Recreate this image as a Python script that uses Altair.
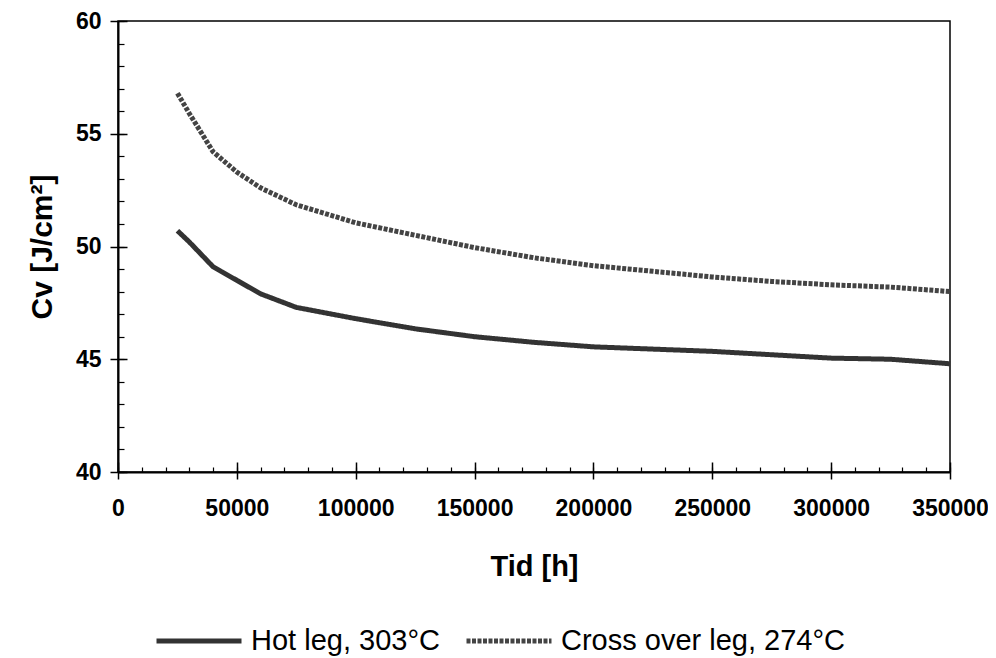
import altair as alt
import pandas as pd

hours = [25000, 30000, 40000, 50000, 60000, 75000, 100000, 125000, 150000,
         175000, 200000, 225000, 250000, 275000, 300000, 325000, 350000]
hot_leg = [50.7, 50.2, 49.1, 48.5, 47.9, 47.3, 46.8, 46.35, 46.0,
           45.75, 45.55, 45.45, 45.35, 45.2, 45.05, 45.0, 44.8]
cross_leg = [56.8, 55.9, 54.2, 53.3, 52.6, 51.85, 51.05, 50.5, 49.95,
             49.5, 49.15, 48.9, 48.65, 48.45, 48.3, 48.2, 48.0]
series_names = ["Hot leg, 303°C", "Cross over leg, 274°C"]
x_ticks = [0, 50000, 100000, 150000, 200000, 250000, 300000, 350000]
y_ticks = [40, 45, 50, 55, 60]
x_minor = list(range(0, 350001, 10000))
y_minor = list(range(40, 61, 1))

rows = []
for h, a, b in zip(hours, hot_leg, cross_leg):
    rows.append({"Tid": h, "Cv": a, "Serie": series_names[0]})
    rows.append({"Tid": h, "Cv": b, "Serie": series_names[1]})
df = pd.DataFrame(rows)

FONT = "Liberation Sans"
xs = alt.Scale(domain=[0, 350000], nice=False)
ys = alt.Scale(domain=[40, 60], nice=False)

lines = alt.Chart(df).mark_line(strokeWidth=5, strokeCap="butt").encode(
    x=alt.X("Tid:Q", scale=xs, title="Tid [h]",
            axis=alt.Axis(values=x_ticks, format="d", tickSize=7,
                          labelPadding=18, titlePadding=32,
                          domainColor="black", domainWidth=2, tickColor="black",
                          tickWidth=1.5, labelFont=FONT, labelFontSize=23,
                          labelFontWeight="bold", labelColor="black",
                          labelFlush=False, labelOverlap=False,
                          titleFont=FONT, titleFontSize=29, titleFontWeight="bold",
                          titleColor="black", grid=False, orient="bottom")),
    y=alt.Y("Cv:Q", scale=ys, title="Cv [J/cm²]",
            axis=alt.Axis(values=y_ticks, tickSize=8, labelPadding=9,
                          titlePadding=18, domainColor="black", domainWidth=2,
                          tickColor="black", tickWidth=1.5, labelFont=FONT,
                          labelFontSize=23, labelFontWeight="bold",
                          labelColor="black", labelFlush=False,
                          titleFont=FONT, titleFontSize=30,
                          titleFontWeight="bold", titleColor="black",
                          grid=False, orient="left")),
    color=alt.Color("Serie:N",
                    scale=alt.Scale(domain=series_names, range=["#333333", "#444444"]),
                    legend=alt.Legend(orient="none", legendX=36, legendY=575,
                                      direction="horizontal", title=None,
                                      labelFont=FONT, labelFontSize=29,
                                      labelColor="black", symbolType="stroke",
                                      symbolSize=7225, symbolStrokeWidth=5,
                                      labelOffset=7, columnPadding=16,
                                      labelLimit=500)),
    strokeDash=alt.StrokeDash("Serie:N",
                              scale=alt.Scale(domain=series_names, range=[[1, 0], [4, 1.5]]),
                              legend=None),
)

minor = alt.Chart(df).mark_line(opacity=0).encode(
    x=alt.X("Tid:Q", scale=xs,
            axis=alt.Axis(values=x_minor, tickSize=5, labels=False, domain=False,
                          title=None, grid=False, orient="bottom", offset=-5,
                          tickColor="black", tickWidth=1.2)),
    y=alt.Y("Cv:Q", scale=ys,
            axis=alt.Axis(values=y_minor, tickSize=6, labels=False, domain=False,
                          title=None, grid=False, orient="left", offset=-6,
                          tickColor="black", tickWidth=1.2)),
)

major_in = alt.Chart(df).mark_line(opacity=0).encode(
    x=alt.X("Tid:Q", scale=xs,
            axis=alt.Axis(values=x_ticks, tickSize=10, labels=False, domain=False,
                          title=None, grid=False, orient="bottom", offset=-10,
                          tickColor="black", tickWidth=1.5)),
    y=alt.Y("Cv:Q", scale=ys,
            axis=alt.Axis(values=y_ticks, tickSize=9, labels=False, domain=False,
                          title=None, grid=False, orient="left", offset=-9,
                          tickColor="black", tickWidth=1.5)),
)

chart = alt.layer(lines, minor, major_in).resolve_axis(
    x="independent", y="independent"
).properties(
    width=832, height=451,
    autosize=alt.AutoSizeParams(type="none"),
    padding={"left": 110, "top": 13, "right": 38, "bottom": 186},
    background="white",
).configure_view(stroke="black", strokeWidth=1.5)

chart.save("out.html", embed_options={"renderer": "svg", "actions": False})
